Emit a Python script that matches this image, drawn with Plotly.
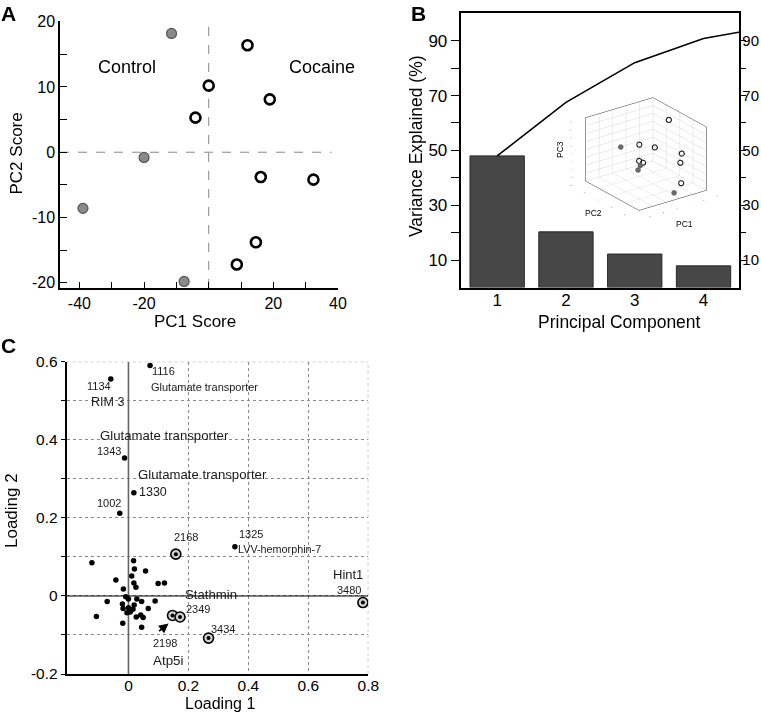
import plotly.graph_objects as go

W, H = 761, 715
FONT = "Liberation Sans, Arial, sans-serif"

# ---------------- Panel A: PCA scores ----------------
control_pc1 = [-11.5, -20.0, -38.9, -7.6]
control_pc2 = [18.2, -0.8, -8.6, -19.8]
cocaine_pc1 = [12.0, 0.0, -4.1, 18.9, 16.1, 32.4, 14.6, 8.7]
cocaine_pc2 = [16.4, 10.2, 5.3, 8.1, -3.8, -4.2, -13.8, -17.2]
# PC3 scores
control_pc3 = [1.2, -0.5, 2.6, -10.6]
cocaine_pc3 = [-9.7, 4.9, -3.7, 1.8, 25.0, -3.9, -10.1, 10.9]

# ---------------- Panel B: variance explained ----------------
components = [1, 2, 3, 4]
variance = [48.0, 20.3, 12.2, 7.9]
cum_components = [1, 2, 3, 4, 5]
cum_variance = [48.0, 67.5, 82.0, 90.8, 95.3]

# ---------------- Panel C: loadings ----------------
other_l1 = [-0.122, 0.017, 0.020, 0.057, 0.011, -0.042, 0.018, 0.025, 0.099, 0.120,
            -0.017, -0.009, 0.000, -0.071, 0.028, 0.044, 0.089, -0.020, 0.019, 0.000,
            -0.018, 0.015, 0.066, -0.005, 0.006, 0.041, 0.049, 0.026, -0.107, -0.019, 0.044]
other_l2 = [0.085, 0.090, 0.069, 0.064, 0.051, 0.041, 0.033, 0.022, 0.032, 0.033,
            0.018, -0.002, -0.008, -0.014, -0.008, -0.014, -0.013, -0.021, -0.023, -0.030,
            -0.032, -0.034, -0.032, -0.043, -0.041, -0.049, -0.055, -0.054, -0.053, -0.070, -0.080]

spot_ids = ["1116", "1134", "1343", "1330", "1002", "1325"]
spot_l1 = [0.072, -0.059, -0.013, 0.018, -0.029, 0.355]
spot_l2 = [0.590, 0.556, 0.353, 0.264, 0.212, 0.126]

circ_ids = ["2168", "2198", "2349", "3434", "3480"]
circ_l1 = [0.158, 0.147, 0.172, 0.267, 0.782]
circ_l2 = [0.107, -0.050, -0.054, -0.108, -0.017]

protein_names = {"1116": "Glutamate transporter", "1134": "RIM 3", "1343": "Glutamate transporter",
                 "1330": "Glutamate transporter", "1325": "LVV-hemorphin-7", "3480": "Hint1",
                 "2349": "Stathmin", "2198": "Atp5i"}

a_xticks = [-40, -30, -20, -10, 0, 10, 20, 30, 40]
a_xlabels = ["-40", "", "-20", "", "", "", "20", "", "40"]
a_yticks = [-20, -15, -10, -5, 0, 5, 10, 15, 20]
a_ylabels = ["-20", "", "-10", "", "0", "", "10", "", "20"]
b_yticks = [10, 20, 30, 40, 50, 60, 70, 80, 90]
b_ylabels = ["10", "", "30", "", "50", "", "70", "", "90"]
c_xticks = [0, 0.2, 0.4, 0.6, 0.8]
c_xlabels = ["0", "0.2", "0.4", "0.6", "0.8"]
c_yticks = [-0.2, -0.1, 0, 0.1, 0.2, 0.3, 0.4, 0.5, 0.6]
c_ylabels = ["-0.2", "", "0", "", "0.2", "", "0.4", "", "0.6"]


def px(x):
    return x / W


def py(y):
    return 1 - y / H


fig = go.Figure()

# Panel A traces
fig.add_trace(go.Scatter(x=control_pc1, y=control_pc2, mode="markers", xaxis="x", yaxis="y",
                         marker=dict(size=10, color="#8a8a8a", line=dict(color="#555555", width=1.2)),
                         name="Control"))
fig.add_trace(go.Scatter(x=cocaine_pc1, y=cocaine_pc2, mode="markers", xaxis="x", yaxis="y",
                         marker=dict(size=10, color="white", line=dict(color="black", width=2.6)),
                         name="Cocaine"))

# Panel B traces
fig.add_trace(go.Bar(x=components, y=variance, xaxis="x2", yaxis="y2", width=0.79,
                     marker=dict(color="#474747", line=dict(color="#2a2a2a", width=1))))
fig.add_trace(go.Scatter(x=cum_components, y=cum_variance, mode="lines", xaxis="x2", yaxis="y2",
                         line=dict(color="black", width=1.6), cliponaxis=True))
fig.add_trace(go.Scatter(x=[1], y=[50], mode="markers", xaxis="x2", yaxis="y3",
                         marker=dict(size=1, color="rgba(0,0,0,0)"), hoverinfo="skip"))

# Inset 3-D scatter
fig.add_trace(go.Scatter3d(x=control_pc1, y=control_pc2, z=control_pc3, mode="markers", scene="scene",
                           marker=dict(size=3.2, color="#6a6a6a", line=dict(color="#555", width=0))))
fig.add_trace(go.Scatter3d(x=cocaine_pc1, y=cocaine_pc2, z=cocaine_pc3, mode="markers", scene="scene",
                           marker=dict(size=3.2, color="white", symbol="circle-open",
                                       line=dict(color="black", width=1.5))))

# Panel C traces
fig.add_trace(go.Scatter(x=other_l1, y=other_l2, mode="markers", xaxis="x3", yaxis="y4",
                         marker=dict(size=5.5, color="black")))
fig.add_trace(go.Scatter(x=spot_l1, y=spot_l2, mode="markers", xaxis="x3", yaxis="y4",
                         marker=dict(size=5.5, color="black")))
fig.add_trace(go.Scatter(x=circ_l1, y=circ_l2, mode="markers", xaxis="x3", yaxis="y4",
                         marker=dict(size=10, color="#d0d0d0", line=dict(color="black", width=1.6))))
fig.add_trace(go.Scatter(x=circ_l1, y=circ_l2, mode="markers", xaxis="x3", yaxis="y4",
                         marker=dict(size=4, color="black")))

tick_a = dict(family=FONT, size=16, color="black")
tick_b = dict(family=FONT, size=17, color="black")
tick_c = dict(family=FONT, size=15.5, color="black")

ax3d = dict(showbackground=False, gridcolor="#d8d8d8", showline=True, linecolor="#333",
            linewidth=1, mirror=True, zeroline=False, showspikes=False,
            tickfont=dict(size=4, color="#555"), title=dict(text=""))

fig.update_layout(
    template="none",
    width=W, height=H, margin=dict(l=0, r=0, t=0, b=0, pad=0, autoexpand=False),
    paper_bgcolor="white", plot_bgcolor="white", showlegend=False,
    font=dict(family=FONT, color="black"),
    xaxis=dict(domain=[px(60), px(338)], range=[-46, 40], anchor="y", automargin=False,
               tickvals=a_xticks, ticktext=a_xlabels, ticks="inside", ticklen=6, tickwidth=1.2,
               tickcolor="black",
               showline=True, linecolor="black", linewidth=1.5, showgrid=False, zeroline=False,
               tickfont=tick_a),
    yaxis=dict(domain=[py(288), py(20.7)], range=[-20.8, 20.15], anchor="x", automargin=False,
               tickvals=a_yticks, ticktext=a_ylabels, ticks="inside", ticklen=7, tickwidth=1.2,
               tickcolor="black",
               showline=True, linecolor="black", linewidth=1.5, showgrid=False, zeroline=False,
               tickfont=tick_a),
    xaxis2=dict(domain=[px(460.7), px(739.3)], range=[0.47, 4.52], anchor="y2", automargin=False,
                tickvals=components, ticks="", showline=True, mirror=True, linecolor="black",
                linewidth=2, showgrid=False, zeroline=False, tickfont=tick_b,
                ticklabelstandoff=-4),
    yaxis2=dict(domain=[py(287.5), py(13.3)], range=[0, 100], anchor="x2", automargin=False,
                tickvals=b_yticks, ticktext=b_ylabels, ticks="outside", ticklen=8, tickwidth=1.2,
                tickcolor="black",
                showline=True, linecolor="black", linewidth=2, showgrid=False, zeroline=False,
                tickfont=tick_b),
    yaxis3=dict(overlaying="y2", side="right", range=[0, 100], anchor="x2", automargin=False,
                tickvals=b_yticks, ticktext=b_ylabels, ticks="outside", ticklen=5, tickwidth=1.2,
                tickcolor="black",
                showline=True, linecolor="black", linewidth=2, showgrid=False, zeroline=False,
                tickfont=dict(family=FONT, size=15, color="black"), ticklabelstandoff=-7),
    xaxis3=dict(domain=[px(66.7), px(368.3)], range=[-0.206, 0.8], anchor="y4", automargin=False,
                tickvals=c_xticks, ticktext=c_xlabels, ticks="", showgrid=True, griddash="dot",
                gridcolor="#8a8a8a", gridwidth=1, showline=True, linecolor="black", linewidth=2,
                zeroline=False, tickfont=tick_c, ticklabelstandoff=-4),
    yaxis4=dict(domain=[py(674), py(361.7)], range=[-0.2, 0.6], anchor="x3", automargin=False,
                tickvals=c_yticks, ticktext=c_ylabels, ticks="outside", ticklen=4, tickwidth=1,
                tickcolor="black",
                showgrid=True, griddash="dot", gridcolor="#8a8a8a", gridwidth=1,
                showline=True, linecolor="black", linewidth=2, zeroline=False, tickfont=tick_c),
    scene=dict(
        domain=dict(x=[px(531), px(761)], y=[py(244), py(64)]),
        bgcolor="rgba(0,0,0,0)",
        camera=dict(eye=dict(x=-0.95, y=-1.29, z=0.71), projection=dict(type="orthographic"),
                    center=dict(x=0, y=0, z=0)),
        aspectmode="manual", aspectratio=dict(x=0.93, y=1, z=0.77),
        xaxis=dict(range=[-60, 40], tickvals=[-60, -40, -20, 0, 20, 40], **ax3d),
        yaxis=dict(range=[-20, 20], tickvals=[-20, -10, 0, 10, 20], **ax3d),
        zaxis=dict(range=[-15, 25], tickvals=[-15, -10, -5, 0, 5, 10, 15, 20, 25], **ax3d),
    ),
)

# reference lines
shapes = [
    dict(type="line", xref="x", yref="y", x0=0, x1=0, y0=-20.8, y1=20.15,
         line=dict(color="#888", width=1, dash="dash"), layer="below"),
    dict(type="line", xref="x", yref="y", x0=-46, x1=38, y0=0, y1=0,
         line=dict(color="#888", width=1, dash="dash"), layer="below"),
    dict(type="line", xref="x3", yref="y4", x0=0, x1=0, y0=-0.2, y1=0.6,
         line=dict(color="#666", width=1.6), layer="between"),
    dict(type="line", xref="x3", yref="y4", x0=-0.206, x1=0.8, y0=0, y1=0,
         line=dict(color="black", width=1.1), layer="between"),
    dict(type="line", xref="x3", yref="y4", x0=-0.206, x1=0.8, y0=0.6, y1=0.6,
         line=dict(color="#8a8a8a", width=1, dash="dot"), layer="between"),
    dict(type="line", xref="x3", yref="y4", x0=0.8, x1=0.8, y0=-0.2, y1=0.6,
         line=dict(color="#8a8a8a", width=1, dash="dot"), layer="between"),
]
fig.update_layout(shapes=shapes)

ann = []


def paper_text(text, x, y, size, angle=0, bold=False, xanchor="center"):
    ann.append(dict(text=f"<b>{text}</b>" if bold else text, x=px(x), y=py(y), xref="paper",
                    yref="paper", showarrow=False, textangle=angle, xanchor=xanchor,
                    yanchor="middle", font=dict(family=FONT, size=size, color="black")))


paper_text("A", 8, 13, 21, bold=True)
paper_text("B", 418, 13, 21, bold=True)
paper_text("C", 8, 346, 21, bold=True)
paper_text("PC2 Score", 15.5, 154, 17, angle=-90)
paper_text("PC1 Score", 194.7, 321.5, 17)
paper_text("Variance Explained (%)", 416, 146, 17.5, angle=-90)
paper_text("Principal Component", 619, 322, 17.5)
paper_text("Loading 2", 11, 511, 17, angle=-90)
paper_text("Loading 1", 220, 703.5, 16)
# inset axis titles
paper_text("PC1", 684, 224, 8.5)
paper_text("PC2", 593, 213, 8.5)
paper_text("PC3", 560, 150, 8.5, angle=-90)

ann.append(dict(text="Control", x=-25.3, y=13, xref="x", yref="y", showarrow=False,
                font=dict(family=FONT, size=18, color="black")))
ann.append(dict(text="Cocaine", x=35.2, y=13, xref="x", yref="y", showarrow=False,
                font=dict(family=FONT, size=18, color="black")))

# label offsets in pixels: (dx, dy_down, anchor, size)
id_style = {
    "1116": (0, 5, "left", 11), "1134": (2, 7, "right", 11), "1343": (-1.5, -7, "right", 11),
    "1330": (3.6, -1, "left", 12.5), "1002": (3, -10, "right", 11), "1325": (2.6, -13, "left", 11),
    "2168": (10, -17, "center", 11), "2198": (-21.6, 28, "left", 11), "2349": (3.7, -8, "left", 11),
    "3434": (0.7, -9.4, "left", 11), "3480": (0, -12.6, "right", 11),
}
name_style = {
    "1116": (-1, 21, "left", 11), "1134": (-22, 23, "left", 12.5), "1343": (-27, -23, "left", 13.2),
    "1330": (2.6, -18, "left", 13.2), "1325": (1.6, 2, "left", 10.8), "3480": (2, -28, "right", 13),
    "2349": (3, -23, "left", 13.2), "2198": (-21.6, 44.7, "left", 13.4),
}

all_ids = spot_ids + circ_ids
all_l1 = spot_l1 + circ_l1
all_l2 = spot_l2 + circ_l2
for sid, xv, yv in zip(all_ids, all_l1, all_l2):
    dx, dy, anc, sz = id_style[sid]
    ann.append(dict(text=sid, x=xv, y=yv, xref="x3", yref="y4", showarrow=False, xanchor=anc,
                    yanchor="middle", xshift=dx, yshift=-dy,
                    font=dict(family=FONT, size=sz, color="#1a1a1a")))
    if sid in protein_names:
        dx, dy, anc, sz = name_style[sid]
        ann.append(dict(text=protein_names[sid], x=xv, y=yv, xref="x3", yref="y4", showarrow=False,
                        xanchor=anc, yanchor="middle", xshift=dx, yshift=-dy,
                        font=dict(family=FONT, size=sz, color="#1a1a1a")))

# arrow pointing to spot 2198
i2198 = circ_ids.index("2198")
ann.append(dict(text="", x=circ_l1[i2198], y=circ_l2[i2198], xref="x3", yref="y4",
                showarrow=True, arrowhead=2, arrowsize=1.2, arrowwidth=1.6, arrowcolor="black",
                xshift=-4, yshift=-8, ax=-11, ay=9, standoff=0))

fig.update_layout(annotations=ann)

fig.write_html("out.html", config={"displayModeBar": False},
               post_script="document.body.style.margin='0';document.body.style.padding='0';")
